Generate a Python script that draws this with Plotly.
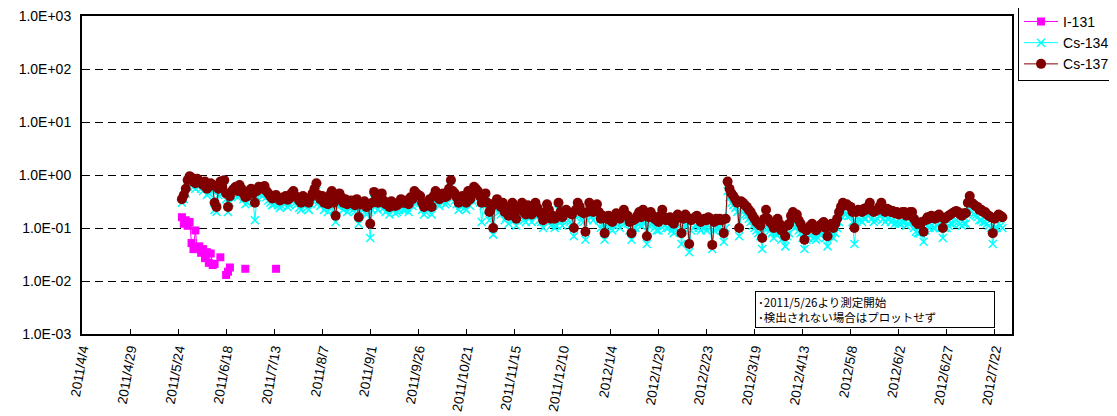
import pandas as pd
import plotly.graph_objects as go

# ---------------- data ----------------
# Cs series: daily measurements starting 2011-05-26
cs_start = "2011-05-26"
cs137 = [
    0.35, 0.42, 0.55, 0.8, 0.95, 0.9, 0.75, 0.7, 0.85, 0.78, 0.7, 0.65, 0.75, 0.55, 0.6, 0.7, 0.65, 0.3, 0.25, 0.55,
    0.75, 0.6, 0.8, 0.45, 0.25, 0.4, 0.5, 0.55, 0.6, 0.5, 0.65, 0.55, 0.45, 0.38, 0.4, 0.5, 0.55, 0.45, 0.3, 0.5,
    0.6, 0.58, 0.55, 0.62, 0.5, 0.45, 0.4, 0.36, 0.38, 0.42, 0.37, 0.33, 0.35, 0.38, 0.4, 0.34, 0.36, 0.45, 0.5, 0.4,
    0.38, 0.33, 0.3, 0.4, 0.35, 0.32, 0.3, 0.38, 0.45, 0.55, 0.7, 0.42, 0.35, 0.4, 0.3, 0.36, 0.28, 0.42, 0.5, 0.3,
    0.17, 0.35, 0.45, 0.38, 0.3, 0.35, 0.28, 0.32, 0.33, 0.3, 0.27, 0.35, 0.16, 0.28, 0.3, 0.32, 0.25, 0.27, 0.12, 0.3,
    0.48, 0.4, 0.3, 0.35, 0.45, 0.33, 0.28, 0.3, 0.25, 0.32, 0.3, 0.26, 0.27, 0.3, 0.35, 0.3, 0.3, 0.33, 0.28, 0.38,
    0.35, 0.5, 0.45, 0.42, 0.4, 0.3, 0.25, 0.28, 0.3, 0.35, 0.25, 0.4, 0.5, 0.45, 0.35, 0.42, 0.45, 0.38, 0.4, 0.55,
    0.8, 0.5, 0.45, 0.38, 0.3, 0.35, 0.4, 0.32, 0.3, 0.5, 0.35, 0.45, 0.6, 0.55, 0.5, 0.4, 0.3, 0.35, 0.45, 0.3,
    0.2, 0.25, 0.1, 0.3, 0.35, 0.28, 0.25, 0.3, 0.2, 0.22, 0.17, 0.25, 0.3, 0.2, 0.15, 0.22, 0.25, 0.3, 0.2, 0.18,
    0.27, 0.22, 0.18, 0.25, 0.3, 0.24, 0.2, 0.18, 0.14, 0.2, 0.28, 0.22, 0.15, 0.17, 0.15, 0.16, 0.3, 0.2, 0.16, 0.2,
    0.22, 0.2, 0.19, 0.18, 0.1, 0.22, 0.3, 0.25, 0.2, 0.19, 0.085, 0.2, 0.3, 0.22, 0.2, 0.25, 0.28, 0.2, 0.15, 0.17,
    0.08, 0.15, 0.17, 0.14, 0.13, 0.16, 0.19, 0.17, 0.15, 0.18, 0.22, 0.18, 0.17, 0.13, 0.08, 0.14, 0.15, 0.17, 0.2, 0.16,
    0.22, 0.18, 0.07, 0.16, 0.2, 0.17, 0.15, 0.14, 0.13, 0.17, 0.22, 0.16, 0.14, 0.15, 0.16, 0.13, 0.12, 0.15, 0.18, 0.16,
    0.08, 0.15, 0.18, 0.16, 0.05, 0.14, 0.15, 0.16, 0.17, 0.15, 0.13, 0.14, 0.15, 0.14, 0.16, 0.15, 0.048, 0.13, 0.15, 0.14,
    0.15, 0.14, 0.08, 0.15, 0.75, 0.55, 0.45, 0.4, 0.35, 0.3, 0.1, 0.32, 0.3, 0.27, 0.25, 0.22, 0.2, 0.17, 0.15, 0.13,
    0.12, 0.11, 0.065, 0.15, 0.22, 0.15, 0.13, 0.12, 0.1, 0.13, 0.15, 0.12, 0.09, 0.1, 0.07, 0.11, 0.12, 0.17, 0.2, 0.16,
    0.18, 0.14, 0.12, 0.1, 0.06, 0.09, 0.1, 0.11, 0.12, 0.1, 0.09, 0.1, 0.11, 0.12, 0.13, 0.1, 0.07, 0.11, 0.12, 0.1,
    0.12, 0.15, 0.2, 0.25, 0.3, 0.27, 0.28, 0.26, 0.25, 0.2, 0.1, 0.2, 0.22, 0.21, 0.2, 0.23, 0.22, 0.25, 0.3, 0.22,
    0.2, 0.21, 0.22, 0.25, 0.3, 0.22, 0.2, 0.23, 0.22, 0.2, 0.21, 0.19, 0.2, 0.18, 0.19, 0.2, 0.2, 0.17, 0.18, 0.2,
    0.2, 0.15, 0.13, 0.12, 0.12, 0.13, 0.085, 0.14, 0.16, 0.15, 0.17, 0.16, 0.15, 0.17, 0.18, 0.16, 0.1, 0.15, 0.16, 0.17,
    0.18, 0.19, 0.2, 0.21, 0.2, 0.18, 0.17, 0.19, 0.19, 0.3, 0.4, 0.3, 0.28, 0.26, 0.25, 0.22, 0.22, 0.2, 0.2, 0.18,
    0.17, 0.16, 0.08, 0.15, 0.16, 0.18, 0.17, 0.16,
]
cs134 = [
    0.3, 0.35, 0.45, 0.6, 0.7, 0.65, 0.6, 0.55, 0.65, 0.6, 0.55, 0.5, 0.6, 0.42, 0.45, 0.55, 0.5, 0.22, 0.2, 0.42,
    0.55, 0.45, 0.6, 0.35, 0.2, 0.3, 0.4, 0.42, 0.45, 0.38, 0.5, 0.42, 0.35, 0.28, 0.3, 0.38, 0.4, 0.33, 0.14, 0.38,
    0.45, 0.43, 0.4, 0.45, 0.38, 0.33, 0.3, 0.27, 0.28, 0.3, 0.27, 0.24, 0.26, 0.28, 0.3, 0.25, 0.27, 0.33, 0.38, 0.3,
    0.28, 0.24, 0.22, 0.3, 0.26, 0.24, 0.22, 0.28, 0.33, 0.4, 0.5, 0.3, 0.26, 0.3, 0.22, 0.26, 0.2, 0.3, 0.37, 0.22,
    0.13, 0.26, 0.33, 0.28, 0.22, 0.26, 0.2, 0.24, 0.24, 0.22, 0.2, 0.26, 0.12, 0.2, 0.22, 0.24, 0.18, 0.2, 0.065, 0.22,
    0.35, 0.3, 0.22, 0.26, 0.33, 0.24, 0.2, 0.22, 0.18, 0.24, 0.22, 0.19, 0.2, 0.22, 0.26, 0.22, 0.22, 0.24, 0.2, 0.28,
    0.26, 0.37, 0.33, 0.31, 0.3, 0.22, 0.18, 0.2, 0.22, 0.26, 0.18, 0.3, 0.37, 0.33, 0.26, 0.31, 0.33, 0.28, 0.3, 0.4,
    0.6, 0.37, 0.33, 0.28, 0.22, 0.26, 0.3, 0.24, 0.22, 0.37, 0.26, 0.33, 0.45, 0.4, 0.37, 0.3, 0.13, 0.26, 0.33, 0.22,
    0.14, 0.18, 0.075, 0.22, 0.26, 0.2, 0.18, 0.22, 0.14, 0.16, 0.12, 0.18, 0.22, 0.14, 0.11, 0.16, 0.18, 0.22, 0.14, 0.13,
    0.2, 0.16, 0.13, 0.18, 0.22, 0.17, 0.14, 0.13, 0.1, 0.14, 0.2, 0.16, 0.11, 0.12, 0.1, 0.11, 0.22, 0.14, 0.11, 0.14,
    0.16, 0.14, 0.13, 0.12, 0.07, 0.16, 0.22, 0.18, 0.14, 0.13, 0.06, 0.14, 0.22, 0.16, 0.14, 0.18, 0.2, 0.14, 0.1, 0.12,
    0.06, 0.1, 0.12, 0.1, 0.09, 0.11, 0.14, 0.12, 0.1, 0.13, 0.16, 0.13, 0.12, 0.09, 0.06, 0.1, 0.1, 0.12, 0.14, 0.11,
    0.15, 0.12, 0.05, 0.11, 0.14, 0.12, 0.1, 0.09, 0.09, 0.11, 0.15, 0.11, 0.1, 0.1, 0.11, 0.09, 0.08, 0.1, 0.12, 0.11,
    0.05, 0.1, 0.12, 0.11, 0.035, 0.09, 0.1, 0.11, 0.12, 0.1, 0.09, 0.1, 0.1, 0.09, 0.11, 0.1, 0.04, 0.09, 0.1, 0.1,
    0.1, 0.09, 0.055, 0.1, 0.5, 0.38, 0.3, 0.27, 0.24, 0.2, 0.07, 0.21, 0.2, 0.18, 0.17, 0.15, 0.13, 0.11, 0.1, 0.09,
    0.08, 0.07, 0.04, 0.1, 0.15, 0.1, 0.09, 0.08, 0.065, 0.08, 0.1, 0.08, 0.06, 0.065, 0.045, 0.07, 0.08, 0.11, 0.13, 0.1,
    0.12, 0.09, 0.08, 0.065, 0.04, 0.06, 0.065, 0.07, 0.08, 0.065, 0.06, 0.065, 0.075, 0.08, 0.09, 0.065, 0.045, 0.07, 0.08, 0.065,
    0.08, 0.1, 0.13, 0.17, 0.2, 0.18, 0.19, 0.17, 0.17, 0.13, 0.05, 0.13, 0.15, 0.14, 0.13, 0.15, 0.15, 0.17, 0.2, 0.15,
    0.13, 0.14, 0.15, 0.17, 0.2, 0.15, 0.13, 0.15, 0.15, 0.13, 0.14, 0.12, 0.13, 0.12, 0.12, 0.13, 0.13, 0.11, 0.12, 0.13,
    0.13, 0.1, 0.085, 0.08, 0.08, 0.085, 0.055, 0.09, 0.11, 0.1, 0.11, 0.1, 0.1, 0.11, 0.12, 0.1, 0.065, 0.1, 0.1, 0.11,
    0.12, 0.12, 0.13, 0.14, 0.13, 0.12, 0.11, 0.12, 0.12, 0.2, 0.27, 0.2, 0.18, 0.17, 0.16, 0.14, 0.14, 0.13, 0.13, 0.12,
    0.11, 0.1, 0.05, 0.1, 0.1, 0.12, 0.11, 0.1,
]

i131_dates = [
    "2011-05-26", "2011-05-27", "2011-05-28", "2011-05-29", "2011-05-30",
    "2011-05-31", "2011-06-01", "2011-06-02", "2011-06-03", "2011-06-04",
    "2011-06-05", "2011-06-06", "2011-06-07", "2011-06-08", "2011-06-09",
    "2011-06-10", "2011-06-11", "2011-06-12", "2011-06-13", "2011-06-15",
    "2011-06-16", "2011-06-18", "2011-06-19", "2011-06-20", "2011-06-21",
    "2011-06-28", "2011-06-29", "2011-07-14",
]
i131 = [
    0.16, 0.12, 0.14, 0.11, 0.13,
    0.052, 0.04, 0.09, 0.04, 0.045,
    0.034, 0.04, 0.027, 0.035, 0.022,
    0.033, 0.02, 0.021, None, 0.028,
    None, 0.013, 0.015, 0.018, None,
    0.017, None, 0.017,
]

tick_dates = [
    "2011-04-04", "2011-04-29", "2011-05-24", "2011-06-18", "2011-07-13",
    "2011-08-07", "2011-09-01", "2011-09-26", "2011-10-21", "2011-11-15",
    "2011-12-10", "2012-01-04", "2012-01-29", "2012-02-23", "2012-03-19",
    "2012-04-13", "2012-05-08", "2012-06-02", "2012-06-27", "2012-07-22",
]
tick_labels = [
    "2011/4/4", "2011/4/29", "2011/5/24", "2011/6/18", "2011/7/13",
    "2011/8/7", "2011/9/1", "2011/9/26", "2011/10/21", "2011/11/15",
    "2011/12/10", "2012/1/4", "2012/1/29", "2012/2/23", "2012/3/19",
    "2012/4/13", "2012/5/8", "2012/6/2", "2012/6/27", "2012/7/22",
]
y_tickvals = [1e-3, 1e-2, 1e-1, 1e0, 1e1, 1e2, 1e3]
y_ticktext = ["1.0E-03", "1.0E-02", "1.0E-01", "1.0E+00", "1.0E+01", "1.0E+02", "1.0E+03"]

note_lines = ["･2011/5/26より測定開始", "･検出されない場合はプロットせず"]

assert len(cs137) == len(cs134)
cs_dates = pd.date_range(cs_start, periods=len(cs137), freq="D")

# ---------------- figure ----------------
FONT = "Liberation Sans, Arial, sans-serif"
fig = go.Figure()

fig.add_trace(go.Scatter(
    x=i131_dates, y=i131, name="I-131", mode="lines+markers",
    connectgaps=False,
    line=dict(color="#FF00FF", width=1),
    marker=dict(symbol="square", size=8, color="#FF00FF"),
))
fig.add_trace(go.Scatter(
    x=cs_dates, y=cs134, name="Cs-134", mode="lines+markers",
    line=dict(color="#00FFFF", width=1),
    marker=dict(symbol="x-thin", size=8, color="#00FFFF",
                line=dict(color="#00FFFF", width=1.5)),
))
fig.add_trace(go.Scatter(
    x=cs_dates, y=cs137, name="Cs-137", mode="lines+markers",
    line=dict(color="#800000", width=1),
    marker=dict(symbol="circle", size=10, color="#800000"),
))

# page body has an 8px margin, so the figure is 8px smaller than the window
fig.update_layout(
    width=1109, height=408,
    margin=dict(l=74, r=105, t=8, b=82, pad=0, autoexpand=False),
    paper_bgcolor="white", plot_bgcolor="white",
    font=dict(family=FONT, size=13, color="black"),
    showlegend=True,
    legend=dict(
        x=1.0065, y=1.035, xanchor="left", yanchor="top",
        bordercolor="black", borderwidth=1, bgcolor="white",
        font=dict(family=FONT, size=14, color="black"),
        tracegroupgap=0, itemwidth=34,
    ),
    annotations=[dict(
        xref="paper", yref="paper", x=0.7237, y=0.135,
        xanchor="left", yanchor="top", align="left",
        text="<br>".join(note_lines), showarrow=False,
        font=dict(family="Noto Sans CJK JP", size=11.5, color="black"),
        bordercolor="black", borderwidth=1, borderpad=2,
        bgcolor="white", width=234,
    )],
)

fig.update_xaxes(
    type="date", range=["2011-04-04", "2012-07-31"],
    tickvals=tick_dates, ticktext=tick_labels, tickangle=-80,
    ticks="inside", ticklen=5, tickcolor="black",
    showgrid=False, zeroline=False, automargin=False,
    ticklabeloverflow="allow",
    showline=True, linecolor="black", linewidth=2, mirror=True,
    tickfont=dict(family=FONT, size=13.5, color="black"),
)
fig.update_yaxes(
    type="log", range=[-3, 3],
    tickvals=y_tickvals, ticktext=y_ticktext,
    ticks="inside", ticklen=5, tickcolor="black",
    showgrid=True, gridcolor="black", gridwidth=1, griddash="8px,5px",
    zeroline=False, automargin=False, ticklabelstandoff=6,
    ticklabeloverflow="allow",
    showline=True, linecolor="black", linewidth=2, mirror=True,
    tickfont=dict(family=FONT, size=14, color="black"),
)

fig.write_html("out.html")
